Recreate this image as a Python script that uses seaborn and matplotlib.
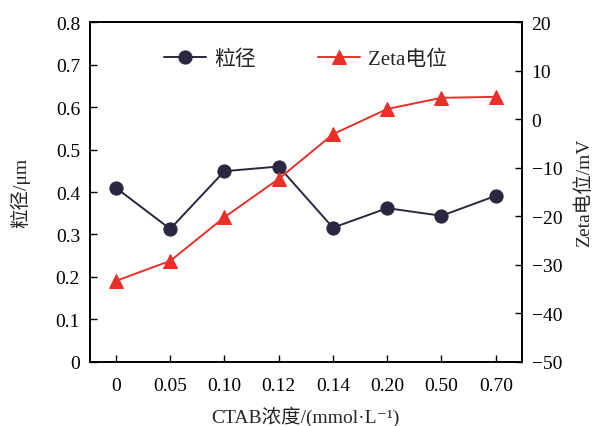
import numpy as np
import pandas as pd
import matplotlib
matplotlib.use("Agg")
import matplotlib.pyplot as plt
import seaborn as sns

# data
conc = ["0", "0.05", "0.10", "0.12", "0.14", "0.20", "0.50", "0.70"]
size_um = [0.410, 0.313, 0.449, 0.460, 0.316, 0.362, 0.344, 0.391]
zeta_mv = [-33.3, -29.2, -20.2, -12.3, -3.1, 2.1, 4.4, 4.6]
left_ticks = [0, 0.1, 0.2, 0.3, 0.4, 0.5, 0.6, 0.7, 0.8]
left_labels = ["0", "0.1", "0.2", "0.3", "0.4", "0.5", "0.6", "0.7", "0.8"]
right_ticks = [-50, -40, -30, -20, -10, 0, 10, 20]

sns.set_style("ticks")
plt.rcParams['font.family'] = ['Liberation Serif', 'Noto Sans CJK SC', 'DejaVu Sans']
plt.rcParams['axes.unicode_minus'] = True

df = pd.DataFrame({"conc": conc, "pos": np.arange(len(conc)),
                   "size": size_um, "zeta": zeta_mv})

navy = "#2c2741"
red = "#e8302a"

fig = plt.figure(figsize=(5.95, 4.27), dpi=100)
ax = fig.add_axes([0.151, 0.150, 0.726, 0.796])
ax2 = ax.twinx()

sns.lineplot(data=df, x="pos", y="size", ax=ax, color=navy, marker="o",
             markersize=9.5, markeredgecolor=navy, linewidth=1.4, label="粒径",
             legend=False)
sns.lineplot(data=df, x="pos", y="zeta", ax=ax2, color=red, marker="^",
             markersize=9.5, markeredgecolor=red, linewidth=1.4, label="Zeta电位",
             legend=False)

ax.set_xlim(-0.48, 7.48)
ax.set_ylim(0, 0.8)
ax2.set_ylim(-50, 20)
ax.set_xticks(df["pos"])
ax.set_xticklabels(conc)
ax.set_yticks(left_ticks)
ax.set_yticklabels(left_labels)
ax2.set_yticks(right_ticks)

for a in (ax, ax2):
    a.tick_params(direction="in", length=5, width=1, labelsize=14,
                  colors="black", pad=7)
    for s in a.spines.values():
        s.set_linewidth(1.2)
        s.set_color("black")
ax.tick_params(axis="x", pad=11)

ax.set_xlabel("CTAB浓度/(mmol·L⁻¹)", fontsize=14, labelpad=8)
ax.set_ylabel("粒径/μm", fontsize=14, labelpad=18)
ax2.set_ylabel("Zeta电位/mV", fontsize=14, labelpad=9)

h1, l1 = ax.get_legend_handles_labels()
h2, l2 = ax2.get_legend_handles_labels()
ax2.legend(h1 + h2, l1 + l2, ncol=2, frameon=False, fontsize=15,
           loc="upper center", bbox_to_anchor=(0.5, 0.975),
           columnspacing=3.0, handlelength=2.0, handletextpad=0.4)

fig.savefig("out.png", dpi=100)
